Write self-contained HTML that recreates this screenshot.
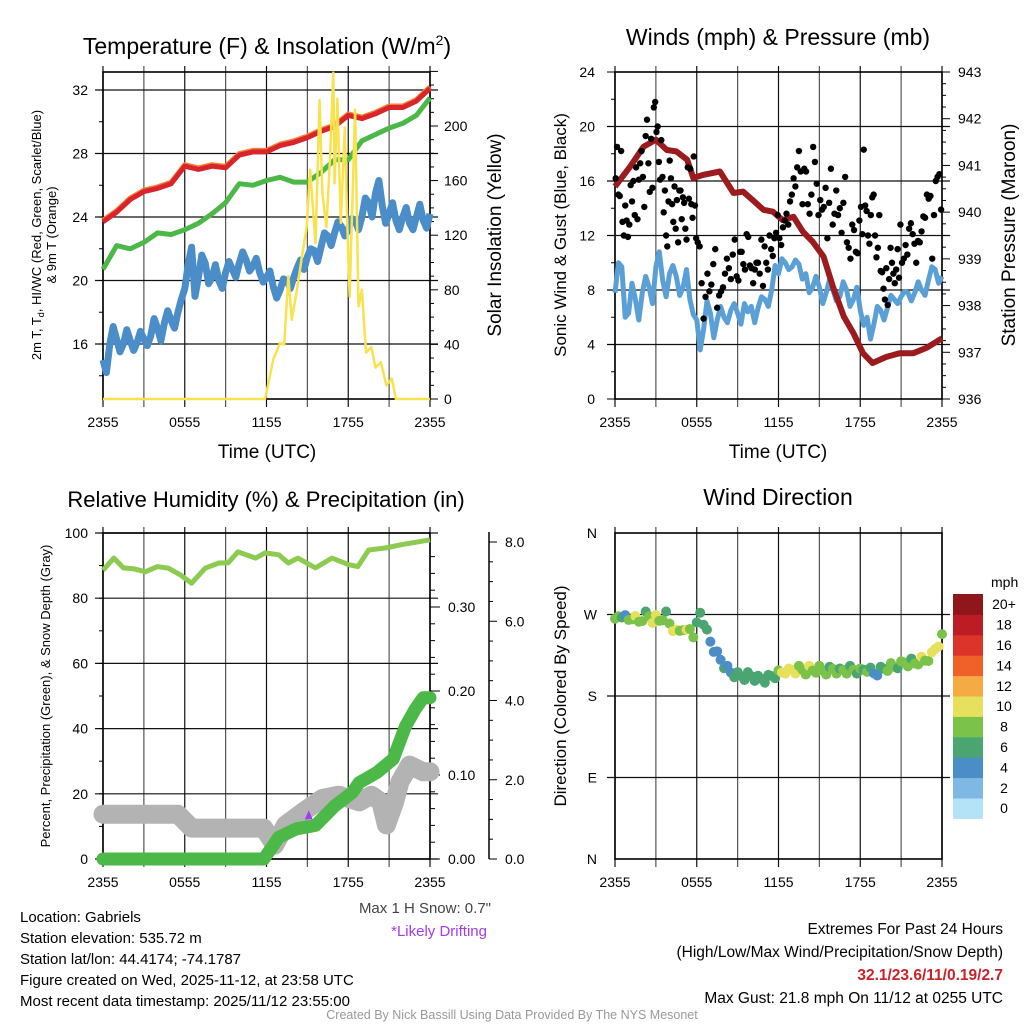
<!DOCTYPE html>
<html><head><meta charset="utf-8">
<style>
html,body{margin:0;padding:0;background:#fff;}
svg{display:block;font-family:"Liberation Sans",sans-serif;}
</style></head>
<body>
<svg id="fig" width="1024" height="1024" viewBox="0 0 1024 1024" xmlns="http://www.w3.org/2000/svg">
<g id="g1"></g>
<g id="g2"></g>
<g id="g3"></g>
<g id="g4"></g>
<g id="txt">
<text x="267" y="54" font-size="23" text-anchor="middle">Temperature (F) &amp; Insolation (W/m<tspan font-size="14" dy="-9">2</tspan><tspan dy="9">)</tspan></text>
<text x="778" y="45" font-size="23" text-anchor="middle">Winds (mph) &amp; Pressure (mb)</text>
<text x="266" y="507" font-size="22" text-anchor="middle">Relative Humidity (%) &amp; Precipitation (in)</text>
<text x="778" y="505" font-size="23" text-anchor="middle">Wind Direction</text>
<text x="267" y="458" font-size="19" text-anchor="middle">Time (UTC)</text>
<text x="778" y="458" font-size="19" text-anchor="middle">Time (UTC)</text>
<text transform="translate(41,235) rotate(-90)" font-size="13" text-anchor="middle">2m T, T<tspan font-size="9" dy="3">d</tspan><tspan dy="-3">, HI/WC (Red, Green, Scarlet/Blue)</tspan></text>
<text transform="translate(56,235) rotate(-90)" font-size="13" text-anchor="middle">&amp; 9m T (Orange)</text>
<text transform="translate(501,235) rotate(-90)" font-size="19" text-anchor="middle">Solar Insolation (Yellow)</text>
<text transform="translate(566,235) rotate(-90)" font-size="17" text-anchor="middle">Sonic Wind &amp; Gust (Blue, Black)</text>
<text transform="translate(1015,235) rotate(-90)" font-size="19" text-anchor="middle">Station Pressure (Maroon)</text>
<text transform="translate(50,696) rotate(-90)" font-size="13" text-anchor="middle">Percent, Precipitation (Green), &amp; Snow Depth (Gray)</text>
<text transform="translate(566,696) rotate(-90)" font-size="17" text-anchor="middle">Direction (Colored By Speed)</text>
<text x="491" y="913" font-size="15" fill="#444" text-anchor="end">Max 1 H Snow: 0.7"</text>
<text x="487" y="936" font-size="15" fill="#a23bf2" text-anchor="end">*Likely Drifting</text>
<g font-size="15">
<text x="20" y="922">Location: Gabriels</text>
<text x="20" y="943">Station elevation: 535.72 m</text>
<text x="20" y="964">Station lat/lon: 44.4174; -74.1787</text>
<text x="20" y="985">Figure created on Wed, 2025-11-12, at 23:58 UTC</text>
<text x="20" y="1006">Most recent data timestamp: 2025/11/12 23:55:00</text>
</g>
<g font-size="15.5" text-anchor="end">
<text x="1003" y="934">Extremes For Past 24 Hours</text>
<text x="1003" y="957">(High/Low/Max Wind/Precipitation/Snow Depth)</text>
<text x="1003" y="980" fill="#c9232a" font-weight="bold">32.1/23.6/11/0.19/2.7</text>
<text x="1003" y="1003">Max Gust: 21.8 mph On 11/12 at 0255 UTC</text>
</g>
<text x="512" y="1019" font-size="12.5" fill="#999" text-anchor="middle">Created By Nick Bassill Using Data Provided By The NYS Mesonet</text>
</g>
</svg>
<script>
// ---------- data ----------
const timeTicks = ["2355","0555","1155","1755","2355"];
const tempRed = [23.7,24.3,25.1,25.6,25.8,26.1,27.2,27.0,27.2,27.1,27.9,28.1,28.1,28.5,28.7,29.0,29.4,29.7,30.4,30.2,30.5,30.9,30.9,31.3,32.1];
const tempGreen = [20.7,22.2,22.0,22.4,23.0,22.9,23.2,23.6,24.2,24.9,26.1,26.0,26.3,26.5,26.2,26.2,26.8,27.6,27.6,28.8,29.2,29.6,29.9,30.4,31.5];
const tempBlue = [15.0,14.2,16.0,17.1,16.3,15.5,16.0,16.9,16.2,15.6,16.1,16.8,16.3,15.9,16.5,17.6,17.0,16.2,17.3,18.1,17.5,17.0,18.0,18.8,19.5,21.0,22.1,19.0,20.2,21.6,21.1,19.8,20.2,21.0,20.0,19.5,20.5,21.2,20.7,20.2,21.1,21.8,21.3,20.6,20.9,21.4,20.5,19.9,20.2,20.6,19.6,18.9,19.4,20.1,20.0,19.5,20.2,20.8,21.3,20.7,21.5,22.0,21.9,21.2,22.1,23.0,22.8,22.2,23.0,23.7,23.4,22.8,23.2,23.9,23.8,23.2,24.0,25.2,24.9,24.0,25.5,26.3,24.7,23.6,24.2,24.9,23.8,23.2,24.0,24.6,23.6,23.2,24.0,24.8,23.8,23.3,24.2];
const insolHours = [0,11.9,12.5,13.0,13.3,13.6,13.85,14.2,14.6,14.95,15.2,15.6,15.9,16.1,16.4,16.65,16.9,17.0,17.2,17.45,17.75,17.9,18.1,18.5,18.75,19.0,19.3,19.7,20.0,20.4,20.8,21.2,21.5,24];
const insolValues = [0,0,29,41,40,90,58,78,104,126,168,114,219,151,126,175,239,158,220,129,199,138,75,212,68,80,34,38,23,27,10,15,0,0];
const tempLeftTicks = [16,20,24,28,32];
const insolTicks = [0,40,80,120,160,200];

const pressure = [940.55,940.97,941.4,941.55,941.33,941.3,941.12,940.73,940.8,940.87,940.41,940.44,940.26,940.05,940.01,939.83,939.9,939.58,939.37,939.05,938.4,937.76,937.41,936.98,936.77,936.9,936.98,936.98,937.1,937.3];
const pressureHours = [0,1.1,2.1,3.0,3.8,4.5,5.3,5.75,6.5,7.7,8.7,9.4,10.1,10.9,11.6,12.3,13.1,13.8,14.5,15.3,16.0,16.8,17.5,18.2,18.9,19.9,20.9,21.9,22.9,24];
const sonicWind = [7.8,10.0,9.7,6.0,6.3,8.5,7.3,5.8,7.8,9.0,8.2,7.0,9.7,10.8,8.7,7.5,9.2,9.8,9.0,7.6,8.2,9.5,7.3,6.2,5.8,3.6,5.1,7.2,6.3,4.5,5.8,6.8,6.0,5.6,6.5,7.0,6.3,5.5,7.0,6.4,6.8,5.6,6.7,7.5,7.3,6.8,8.0,9.8,9.2,10.3,10.0,9.5,9.7,10.2,9.9,8.8,9.2,7.8,8.2,9.0,8.2,7.0,7.8,8.8,8.0,7.2,7.5,8.6,8.0,6.8,7.3,8.2,6.5,5.4,6.0,4.4,5.5,6.8,6.5,5.8,6.7,7.6,7.3,7.0,7.5,7.9,7.8,7.2,7.8,8.6,8.0,7.6,8.7,9.7,9.5,8.5,9.0];
const gustSeg0 = [16.2,18.5,15.0,14.9,18.2,13.0,12.0,14.2,13.1,11.9,12.8,15.7,14.5,16.0,13.5,17.0,13.2,16.1,17.3,18.2,16.3,14.1,19.3,20.5,17.3,15.2,19.1,15.5,21.4,21.8];
const gustSeg1 = [19.6,20.0,17.4,16.1,19.0,16.3,13.7,15.3,12.0,11.2,14.5,17.5,16.2,14.3,13.0,15.6,12.5,14.6,11.5,15.3,15.3,13.2,14.8,14.4,12.5,11.7,17.0,14.7,16.9,14.3,13.3,17.8,14.2,11.8];
const gustSeg2 = [11.5,11.2,8.5,5.9,7.5,9.2,7.9,8.4,9.9,11.0,6.7,7.6,7.9,8.2,9.2,10.3,9.6,8.8,10.6,11.7,9.0];
const gustSeg3 = [8.7,10.8,10.8,9.9,9.5,12.1,11.9,9.8,9.6,8.5,9.5,10.0,10.0,9.2,11.7,8.3,11.2,10.0,9.5,12.0,11.0,10.5,11.8,12.2,13.5];
const gustSeg4 = [11.8,11.3,12.6,13.1,13.6,12.8,14.5,15.0,16.2,15.6,17.0,18.2,16.7,14.3,16.9,16.7,14.3,13.6,15.0,18.5,17.4,15.8,13.5];
const gustSeg5 = [14.6,13.9,14.1,15.5,11.8,14.4,16.9,12.8,13.6,15.3,13.5,14.0,12.2,14.4,16.3,11.5,11.1,10.3,12.8,12.4,10.8,10.7,13.1];
const gustSeg6 = [14.1,12.1,18.3,14.2,13.8,12.0,11.4,13.5,14.8,15.0,12.0,10.4,11.1,13.5,9.4,9.3,8.1,7.3,9.6,6.9,8.8,11.1,10.0,9.2,8.5,9.5,11.0,8.9,12.8];
const gustSeg7 = [10.0,10.3,11.3,10.6,12.5,12.9,12.1,11.4,10.0,11.6,11.5,12.3,13.4,13.3,15.0,14.7,14.9,10.3,13.5,16.0,16.3,16.5,13.9];
const windTicks = [0,4,8,12,16,20,24];
const pressTicks = [936,937,938,939,940,941,942,943];

const rhHours = [0,0.8,1.5,2.3,3.1,4.0,4.8,5.7,6.5,7.5,8.5,9.2,9.9,11.2,11.9,12.9,13.6,14.3,15.6,16.8,18.0,18.7,19.5,20.7,21.9,24];
const rhValues = [88.6,92.3,89.3,89.0,88.1,89.7,89.2,87.1,84.6,89.2,90.8,90.9,94.2,92.3,93.9,93.3,90.8,92.3,89.3,92.3,90.3,89.7,94.8,95.4,96.4,97.9];
const precipHours = [0,11.8,12.9,14.2,15.6,17.0,18.3,18.8,20.1,21.3,22.2,22.9,23.5,24];
const precipValues = [0,0,0.026,0.036,0.040,0.063,0.079,0.091,0.103,0.119,0.158,0.178,0.192,0.192];
const snowHours = [0,5.5,6.5,11.8,12.6,13.4,14.7,16.1,17.3,18.8,19.7,20.4,20.8,21.4,21.8,22.5,23.5,24];
const snowValues = [1.13,1.13,0.78,0.78,0.35,0.86,1.19,1.53,1.61,1.44,1.61,1.44,0.86,1.44,1.95,2.37,2.2,2.2];
const rhTicks = [0,20,40,60,80,100];
const precipTicks = ["0.00","0.10","0.20","0.30"];
const snowTicks = ["0.0","2.0","4.0","6.0","8.0"];

const dirValues = [262,268,270,266,264,268,265,262,266,270,268,264,266,263,267,270,260,255,250,252,256,250,254,248,258,
272,262,250,240,232,226,220,214,210,206,204,203,
202,201,203,202,200,199,199,198,200,202,203,205,
206,208,207,209,208,210,209,207,210,208,209,210,
208,207,209,210,208,207,209,208,210,209,208,207,
209,210,208,205,206,209,210,211,213,212,214,215,
217,216,218,216,218,220,219,222,225,232,238,245];
const dirSpeeds = [8,9,7,5,8,9,10,8,9,7,8,10,11,9,8,7,9,10,11,8,9,10,8,9,7,
7,7,6,5,5,4,5,6,4,5,6,7,
7,6,7,6,7,6,7,6,7,6,7,8,
10,11,10,11,10,9,8,9,10,8,9,8,
9,8,7,9,8,7,8,9,7,8,7,8,
7,8,6,5,4,7,6,8,9,8,7,8,
9,8,7,9,8,10,9,8,10,11,10,8];
const dirTicks = ["N","E","S","W","N"];
const speedLabels = ["0","2","4","6","8","10","12","14","16","18","20+"];
const speedColors = ["#b4e2f7","#7fb8e3","#4a8dc7","#4aa571","#7bc24a","#e7e05c","#f6aa44","#ef6129","#dc3429","#bd1c25","#8f161b"];

// ---------- helpers ----------
const NS="http://www.w3.org/2000/svg";
function mk(parent,tag,attrs){const e=document.createElementNS(NS,tag);for(const k in attrs)e.setAttribute(k,attrs[k]);parent.appendChild(e);return e;}
function lin(d0,d1,r0,r1){return v=>r0+(v-d0)*(r1-r0)/(d1-d0);}
function pathD(xs,ys,fx,fy){return xs.map((x,i)=>(i?"L":"M")+fx(x).toFixed(1)+","+fy(ys[i]).toFixed(1)).join("");}
function idxHours(arr){return arr.map((_,i)=>i*24/(arr.length-1));}

function frame(g,L,R,T,B,fy,hTicks,name){
  for(let i=0;i<=8;i++){const x=L+(R-L)*i/8;
    const ln=mk(g,"line",{x1:x,x2:x,y1:T-6,y2:B+8,stroke:i%2?"#555":"#111","stroke-width":1.2});
    
    
  }
  hTicks.forEach(v=>{const y=fy(v);
    const ln=mk(g,"line",{x1:L-8,x2:R+8,y1:y,y2:y,stroke:"#111","stroke-width":1.2});
    
    
  });
  const bx=mk(g,"rect",{x:L,y:T,width:R-L,height:B-T,fill:"none",stroke:"#000","stroke-width":1.6});
  
  
  timeTicks.forEach((t,i)=>{const x=L+(R-L)*i/4;
    const tx=mk(g,"text",{x:x,y:B+28,"font-size":14,"text-anchor":"middle"});tx.textContent=t;
    
    
  });
}

// ---------- Panel 1 ----------
(function(){
  const g=document.getElementById("g1");
  const L=103,R=430,T=72,B=399;
  const fx=lin(0,24,L,R), fy=lin(16,32,344,90), fr=lin(0,200,399,126);
  frame(g,L,R,T,B,fy,tempLeftTicks,'temperature');
  tempLeftTicks.forEach(v=>{const t=mk(g,"text",{x:L-15,y:fy(v)+5,"font-size":14,"text-anchor":"end"});t.textContent=v;
    
    });
  for(let v=14;v<=32;v+=2){mk(g,"line",{x1:L-4,x2:L,y1:fy(v),y2:fy(v),stroke:"#000"});}
  insolTicks.forEach(v=>{const t=mk(g,"text",{x:R+14,y:fr(v)+5,"font-size":14});t.textContent=v;
    
    });
  for(let v=0;v<=240;v+=10){mk(g,"line",{x1:R,x2:R+(v%40?4:8),y1:fr(v),y2:fr(v),stroke:"#000"});}
  const hrs=idxHours(tempRed);
  const pb=mk(g,"path",{d:pathD(idxHours(tempBlue),tempBlue,fx,fy),fill:"none",stroke:"#4a8dc8","stroke-width":7,"stroke-linejoin":"round"});
  
  
  const pg=mk(g,"path",{d:pathD(hrs,tempGreen,fx,fy),fill:"none",stroke:"#4cb848","stroke-width":5,"stroke-linejoin":"round"});
  
  
  const po=mk(g,"path",{d:pathD(hrs,tempRed,fx,v=>fy(v)-1.5),fill:"none",stroke:"#f57f3a","stroke-width":5,"stroke-linejoin":"round"});
  
  
  const pr=mk(g,"path",{d:pathD(hrs,tempRed,fx,fy),fill:"none",stroke:"#d8242a","stroke-width":5,"stroke-linejoin":"round"});
  
  
  const py=mk(g,"path",{d:pathD(insolHours,insolValues,fx,fr),fill:"none",stroke:"#f8e24e","stroke-width":2.5,"stroke-linejoin":"round"});
  
  
})();

// ---------- Panel 2 ----------
(function(){
  const g=document.getElementById("g2");
  const L=615,R=942,T=72,B=399;
  const fx=lin(0,24,L,R), fy=lin(0,24,399,72), fp=lin(936,943,399,72);
  frame(g,L,R,T,B,fy,windTicks.slice(1,-1),'winds');
  windTicks.forEach(v=>{const t=mk(g,"text",{x:L-20,y:fy(v)+5,"font-size":14,"text-anchor":"end"});t.textContent=v;
    
    });
  for(let v=0;v<=24;v+=2){mk(g,"line",{x1:L-(v%4?4:8),x2:L,y1:fy(v),y2:fy(v),stroke:"#000"});}
  pressTicks.forEach(v=>{const t=mk(g,"text",{x:R+16,y:fp(v)+5,"font-size":14});t.textContent=v;
    
    });
  for(let v=936;v<=943.01;v+=0.25){mk(g,"line",{x1:R,x2:R+(Math.abs(v-Math.round(v))<0.01?8:4),y1:fp(v),y2:fp(v),stroke:"#000"});}
  const pb=mk(g,"path",{d:pathD(idxHours(sonicWind),sonicWind,fx,fy),fill:"none",stroke:"#5a9fd6","stroke-width":5,"stroke-linejoin":"round"});
  
  
  const pp=mk(g,"path",{d:pathD(pressureHours,pressure,fx,fp),fill:"none",stroke:"#9b1b1e","stroke-width":6,"stroke-linejoin":"round"});
  
  
  const segs=[gustSeg0,gustSeg1,gustSeg2,gustSeg3,gustSeg4,gustSeg5,gustSeg6,gustSeg7];
  segs.forEach((s,k)=>{s.forEach((v,i)=>{const h=k*3+3*(i+0.5)/s.length;
    const c=mk(g,"circle",{cx:fx(h),cy:fy(v),r:3.2,fill:"#000"});
    
    });});
})();

// ---------- Panel 3 ----------
(function(){
  const g=document.getElementById("g3");
  const L=103,R=430,T=533,B=859;
  const fx=lin(0,24,L,R), fy=lin(0,100,859,533), fp=lin(0,0.1,859,775), fs=lin(0,8,859,542);
  frame(g,L,R,T,B,fy,rhTicks,'humidity');
  rhTicks.forEach(v=>{const t=mk(g,"text",{x:L-15,y:fy(v)+5,"font-size":14,"text-anchor":"end"});t.textContent=v;
    
    });
  for(let v=0;v<=100;v+=10){mk(g,"line",{x1:L-4,x2:L,y1:fy(v),y2:fy(v),stroke:"#000"});}
  precipTicks.forEach(v=>{const t=mk(g,"text",{x:R+18,y:fp(+v)+5,"font-size":14});t.textContent=v;
    
    });
  for(let v=0;v<=0.38;v+=0.02){mk(g,"line",{x1:R,x2:R+(Math.round(v*100)%10?5:10),y1:fp(v),y2:fp(v),stroke:"#000"});}
  mk(g,"line",{x1:489,x2:489,y1:532,y2:859,stroke:"#000","stroke-width":1.5});
  snowTicks.forEach(v=>{const t=mk(g,"text",{x:505,y:fs(+v)+5,"font-size":14});t.textContent=v;
    
    });
  for(let v=0;v<=8;v+=0.5){mk(g,"line",{x1:489,x2:489+(v%2?4:8),y1:fs(v),y2:fs(v),stroke:"#000"});}
  const ps=mk(g,"path",{d:pathD(snowHours,snowValues,fx,fs),fill:"none",stroke:"#b3b3b3","stroke-width":19,"stroke-linejoin":"round","stroke-linecap":"round"});
  
  
  const pp=mk(g,"path",{d:pathD(precipHours,precipValues,fx,fp),fill:"none",stroke:"#4cb848","stroke-width":13,"stroke-linejoin":"round","stroke-linecap":"round"});
  
  
  const pr=mk(g,"path",{d:pathD(rhHours,rhValues,fx,fy),fill:"none",stroke:"#8ccb50","stroke-width":5,"stroke-linejoin":"round"});
  
  
  const tri=mk(g,"polygon",{points:`${fx(15.1)-4},${fs(1.1)+4} ${fx(15.1)},${fs(1.1)-5} ${fx(15.1)+4},${fs(1.1)+4}`,fill:"#a23bf2"});
  
  
})();

// ---------- Panel 4 ----------
(function(){
  const g=document.getElementById("g4");
  const L=615,R=942,T=533,B=859;
  const fx=lin(0,24,L,R), fy=lin(0,360,859,533);
  frame(g,L,R,T,B,fy,[90,180,270],'direction');
  dirTicks.forEach((v,i)=>{const t=mk(g,"text",{x:597,y:fy(i*90)+5,"font-size":14,"text-anchor":"end"});t.textContent=v;
    
    });
  const hrs=idxHours(dirValues);
  dirValues.forEach((d,i)=>{const sp=dirSpeeds[i];const ci=Math.min(10,Math.floor(sp/2));
    const c=mk(g,"circle",{cx:fx(hrs[i]),cy:fy(d)+((i%3)-1)*3,r:5,fill:speedColors[ci]});
    
    });
  const cb=mk(g,"g",{});
  
  
  const unit=mk(cb,"text",{x:991,y:587,"font-size":14});unit.textContent="mph";
  
  
  const top=594,h=20.4;
  speedLabels.forEach((lab,i)=>{const k=10-i;const y=top+k*h;
    const r=mk(cb,"rect",{x:953,y:y,width:30,height:h+0.5,fill:speedColors[i]});
    
    
    const t=mk(cb,"text",{x:1004,y:y+h/2+5,"font-size":14,"text-anchor":"middle"});t.textContent=lab;
    
    
  });
})();
</script>
</body></html>
